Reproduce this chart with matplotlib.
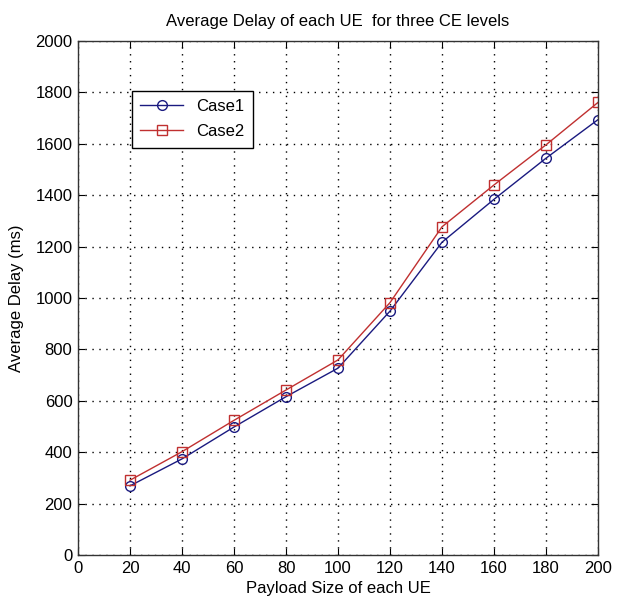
import matplotlib
matplotlib.use('Agg')
import matplotlib.pyplot as plt

# Data
payload = [20, 40, 60, 80, 100, 120, 140, 160, 180, 200]
case1 = [269, 374, 498, 616, 727, 949, 1217, 1384, 1544, 1694]
case2 = [291, 402, 524, 642, 759, 982, 1277, 1440, 1596, 1761]
xticks = list(range(0, 201, 20))
yticks = list(range(0, 2001, 200))

plt.rcParams['font.family'] = ['Liberation Sans', 'DejaVu Sans']

fig = plt.figure(figsize=(6.18, 6.12), dpi=100)
ax = fig.add_axes([78/618, 1 - 555/612, 520/618, 514/612])

ax.plot(payload, case1, color='#1a1a80', lw=1, marker='o', ms=7,
        mfc='none', mec='#1a1a80', label='Case1')
ax.plot(payload, case2, color='#c03030', lw=1, marker='s', ms=7,
        mfc='none', mec='#c03030', label='Case2')

ax.set_xlim(0, 200)
ax.set_ylim(0, 2000)
ax.set_xticks(xticks)
ax.set_yticks(yticks)
ax.tick_params(direction='in', top=True, right=True, length=5, labelsize=12, pad=4)
ax.grid(True, linestyle=(0, (1, 4)), color='black', lw=1)

for s in ax.spines.values():
    s.set_color('#333333')
    s.set_linewidth(1)

ax.set_title('Average Delay of each UE  for three CE levels', fontsize=12, pad=11)
ax.set_xlabel('Payload Size of each UE', fontsize=12, labelpad=4)
ax.set_ylabel('Average Delay (ms)', fontsize=12, labelpad=8)

leg = ax.legend(loc='upper left', bbox_to_anchor=(0.103, 0.903), fontsize=12,
                fancybox=False, framealpha=1, edgecolor='black',
                borderpad=0.5, handlelength=2.6, labelspacing=0.6, borderaxespad=0)
leg.get_frame().set_linewidth(1)

fig.savefig('out.png', dpi=100)
